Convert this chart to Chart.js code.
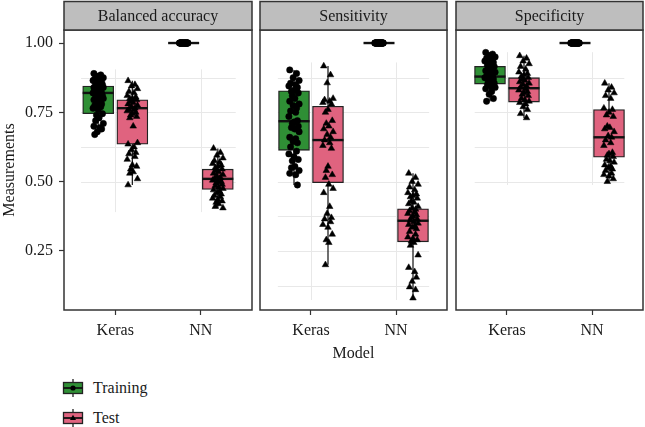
<!DOCTYPE html>
<html>
<head>
<meta charset="utf-8">
<script src="https://cdn.jsdelivr.net/npm/chart.js@4.4.1/dist/chart.umd.min.js"></script>
<style>
  body { margin: 0; background: #fff; }
  #wrap { position: relative; width: 645px; height: 427px; overflow: hidden; background: #fff; font-family: "Liberation Serif", serif; }
  #wrap canvas { position: absolute; top: 0; }
  .leg { position: absolute; left: 62px; height: 20px; line-height: 20px; font-size: 16px; color: #1a1a1a; }
  .leg svg { position: absolute; left: 0; top: 0; }
  .leg span { position: absolute; left: 31px; top: 0; white-space: nowrap; }
</style>
</head>
<body>
<div id="wrap">
  <canvas id="c1" width="256" height="345" style="left:0px"></canvas>
  <canvas id="c2" width="195" height="370" style="left:256px"></canvas>
  <canvas id="c3" width="193" height="345" style="left:452px"></canvas>
  <div class="leg" style="top:378px">
    <svg width="22" height="20"><line x1="11" y1="1" x2="11" y2="19" stroke="#222" stroke-width="1.3"/><rect x="1.5" y="4.5" width="19" height="11" fill="#2f8f35" stroke="#222" stroke-width="1.3"/><line x1="1.5" y1="10" x2="20.5" y2="10" stroke="#111" stroke-width="1.8"/><circle cx="11" cy="10" r="2.6" fill="#000"/></svg>
    <span>Training</span>
  </div>
  <div class="leg" style="top:408px">
    <svg width="22" height="20"><line x1="11" y1="1" x2="11" y2="19" stroke="#222" stroke-width="1.3"/><rect x="1.5" y="4.5" width="19" height="11" fill="#e0637f" stroke="#222" stroke-width="1.3"/><line x1="1.5" y1="10" x2="20.5" y2="10" stroke="#111" stroke-width="1.8"/><path d="M11 6.8 L14 12 L8 12 Z" fill="#000"/></svg>
    <span>Test</span>
  </div>
</div>
<script>
// ---------------- data ----------------
const categories = ["Keras", "NN"];
const panelTitles = ["Balanced accuracy", "Sensitivity", "Specificity"];
const seriesNames = ["Training", "Test"];
const yTickValues = [0.25, 0.50, 0.75, 1.00];

// box statistics per category: [lower whisker, Q1, median, Q3, upper whisker]
const baTrainBox = [[0.67, 0.745, 0.82, 0.845, 0.89], [1, 1, 1, 1, 1]];
const baTestBox  = [[0.488, 0.635, 0.765, 0.795, 0.864], [0.405, 0.472, 0.51, 0.545, 0.62]];
const seTrainBox = [[0.488, 0.613, 0.718, 0.828, 0.903], [1, 1, 1, 1, 1]];
const seTestBox  = [[0.20, 0.496, 0.65, 0.772, 0.917], [0.08, 0.283, 0.359, 0.402, 0.53]];
const spTrainBox = [[0.79, 0.852, 0.879, 0.916, 0.966], [1, 1, 1, 1, 1]];
const spTestBox  = [[0.73, 0.787, 0.837, 0.875, 0.954], [0.50, 0.588, 0.66, 0.76, 0.855]];

// individual measurements (jittered points)
const baKerasTrain = [0.89,0.885,0.88,0.875,0.87,0.87,0.865,0.86,0.86,0.855,0.85,0.85,0.845,0.84,0.84,0.835,0.83,0.83,0.825,0.82,0.82,0.815,0.81,0.81,0.805,0.80,0.80,0.795,0.79,0.785,0.78,0.775,0.77,0.765,0.76,0.745,0.74,0.73,0.72,0.71,0.70,0.695,0.69,0.68,0.67];
const baKerasTest  = [0.864,0.85,0.845,0.835,0.825,0.82,0.81,0.805,0.80,0.80,0.795,0.79,0.785,0.78,0.775,0.77,0.765,0.76,0.76,0.755,0.75,0.745,0.74,0.735,0.73,0.70,0.64,0.635,0.625,0.615,0.605,0.60,0.59,0.58,0.56,0.555,0.545,0.535,0.53,0.51,0.488];
const baNNTrain    = [1,1,1,1,1,1,1,1,1,1,1,1,1,1,1,1,1,1,1,1,1,1,1,1,1,1,1,1,1,1];
const baNNTest     = [0.62,0.605,0.595,0.585,0.575,0.57,0.565,0.56,0.555,0.55,0.545,0.54,0.535,0.53,0.525,0.52,0.515,0.51,0.51,0.505,0.50,0.50,0.495,0.49,0.485,0.48,0.475,0.47,0.465,0.46,0.455,0.45,0.445,0.44,0.435,0.43,0.425,0.42,0.41,0.405];

const seKerasTrain = [0.903,0.89,0.875,0.865,0.855,0.85,0.845,0.84,0.83,0.825,0.82,0.81,0.80,0.79,0.78,0.775,0.765,0.755,0.75,0.735,0.72,0.715,0.71,0.70,0.695,0.69,0.68,0.66,0.655,0.645,0.64,0.625,0.61,0.60,0.59,0.58,0.575,0.555,0.55,0.54,0.53,0.525,0.488];
const seKerasTest  = [0.917,0.885,0.856,0.80,0.795,0.79,0.785,0.78,0.76,0.75,0.72,0.71,0.70,0.69,0.68,0.67,0.66,0.65,0.64,0.63,0.62,0.555,0.54,0.525,0.515,0.49,0.475,0.46,0.41,0.385,0.37,0.365,0.355,0.345,0.335,0.31,0.29,0.28,0.20];
const seNNTrain    = [1,1,1,1,1,1,1,1,1,1,1,1,1,1,1,1,1,1,1,1,1,1,1,1,1,1,1,1,1,1];
const seNNTest     = [0.53,0.515,0.50,0.49,0.48,0.47,0.46,0.455,0.45,0.445,0.44,0.43,0.425,0.42,0.41,0.405,0.40,0.395,0.39,0.385,0.38,0.375,0.37,0.365,0.36,0.355,0.35,0.345,0.34,0.335,0.33,0.32,0.31,0.30,0.295,0.29,0.285,0.28,0.27,0.235,0.19,0.175,0.155,0.14,0.12,0.11,0.08];

const spKerasTrain = [0.966,0.96,0.955,0.95,0.945,0.94,0.935,0.93,0.925,0.92,0.915,0.91,0.905,0.90,0.895,0.89,0.885,0.88,0.88,0.875,0.87,0.865,0.86,0.855,0.85,0.845,0.84,0.835,0.825,0.815,0.80,0.79];
const spKerasTest  = [0.954,0.945,0.935,0.925,0.915,0.905,0.895,0.89,0.885,0.88,0.875,0.87,0.865,0.86,0.855,0.85,0.845,0.84,0.835,0.83,0.825,0.82,0.815,0.81,0.80,0.795,0.79,0.785,0.78,0.77,0.76,0.745,0.73];
const spNNTrain    = [1,1,1,1,1,1,1,1,1,1,1,1,1,1,1,1,1,1,1,1,1,1,1,1,1,1,1,1,1,1];
const spNNTest     = [0.855,0.84,0.83,0.82,0.81,0.80,0.765,0.76,0.75,0.74,0.735,0.70,0.695,0.69,0.68,0.665,0.66,0.65,0.64,0.63,0.605,0.60,0.595,0.59,0.58,0.575,0.57,0.56,0.555,0.55,0.545,0.54,0.53,0.525,0.52,0.51,0.50];

// horizontal jitter offsets (category units)
const jitter = [-0.05,0.03,-0.01,0.06,-0.04,0.02,-0.06,0.04,0.00,-0.03,0.05,-0.02,0.01,-0.05,0.06,-0.01,0.03,-0.04,0.02,-0.06,0.04,0.00,-0.02,0.05,-0.03,0.01,0.06,-0.05,0.02,-0.01,0.04,-0.04,0.03,-0.06,0.00,0.05,-0.02,0.01,-0.03,0.06,-0.05,0.02,0.04,-0.01,-0.04,0.03,0.00,-0.06,0.05,-0.02];

// ---------------- style ----------------
const FONT = '"Liberation Serif", "Times New Roman", serif';
const TEXT = '#1a1a1a';
const GREEN = '#2f8f35';
const PINK = '#e0637f';
const EDGE = '#222222';
const DODGE = 0.2;
const Y_MIN = 0.037, Y_MAX = 1.047;

const panelDefs = [
  { id: 'c1', title: panelTitles[0], train: baTrainBox, test: baTestBox,
    pts: [baKerasTrain, baKerasTest, baNNTrain, baNNTest], showY: true, showXTitle: false,
    pad: { left: 0, right: 4 }, xh: 35, grid: [0.6, 2.41, 0.39, 0.905] },
  { id: 'c2', title: panelTitles[1], train: seTrainBox, test: seTestBox,
    pts: [seKerasTrain, seKerasTest, seNNTrain, seNNTest], showY: false, showXTitle: true,
    pad: { left: 4, right: 4 }, xh: 60, grid: [0.61, 2.39, 0.073, 0.93] },
  { id: 'c3', title: panelTitles[2], train: spTrainBox, test: spTestBox,
    pts: [spKerasTrain, spKerasTest, spNNTrain, spNNTest], showY: false, showXTitle: false,
    pad: { left: 4, right: 2 }, xh: 35, grid: [0.62, 2.38, 0.488, 0.967] }
];

const facetPlugin = {
  id: 'facet',
  beforeDatasetsDraw(chart, args, opts) {
    const { ctx, chartArea: a, scales: { x, y } } = chart;
    const g = opts.grid;
    ctx.save();
    ctx.strokeStyle = '#e8e8e8';
    ctx.lineWidth = 1;
    const x0 = x.getPixelForValue(g[0]), x1 = x.getPixelForValue(g[1]);
    const y0 = y.getPixelForValue(g[2]), y1 = y.getPixelForValue(g[3]);
    for (let v = 0.125; v < 1.0; v += 0.125) {
      if (v < g[2] || v > g[3]) continue;
      const py = Math.round(y.getPixelForValue(v)) + 0.5;
      ctx.beginPath(); ctx.moveTo(x0, py); ctx.lineTo(x1, py); ctx.stroke();
    }
    [1, 2].forEach(c => {
      const px = Math.round(x.getPixelForValue(c)) + 0.5;
      ctx.beginPath(); ctx.moveTo(px, y1); ctx.lineTo(px, y0); ctx.stroke();
    });
    ctx.restore();
  },
  afterDraw(chart, args, opts) {
    const { ctx, chartArea: a } = chart;
    ctx.save();
    ctx.strokeStyle = '#333';
    ctx.lineWidth = 1.5;
    ctx.strokeRect(a.left, a.top, a.right - a.left, a.bottom - a.top);
    ctx.fillStyle = '#bebebe';
    ctx.fillRect(a.left, 1.5, a.right - a.left, a.top - 1.5);
    ctx.strokeRect(a.left, 1.5, a.right - a.left, a.top - 1.5);
    ctx.fillStyle = TEXT;
    ctx.font = '16px ' + FONT;
    ctx.textAlign = 'center';
    ctx.textBaseline = 'middle';
    ctx.fillText(opts.title, (a.left + a.right) / 2, (a.top + 1.5) / 2 + 1);
    ctx.restore();
  }
};

function boxDatasets(stats, color, offset) {
  const sets = [];
  stats.forEach((s, i) => {
    const cx = i + 1 + offset;
    sets.push({ type: 'line', data: [{ x: cx, y: s[0] }, { x: cx, y: s[4] }],
      borderColor: EDGE, borderWidth: 1.3, pointRadius: 0, fill: false, order: 5 });
  });
  sets.push({ type: 'bar', data: stats.map((s, i) => ({ x: i + 1 + offset, y: [s[1], s[3]] })),
    backgroundColor: color, borderColor: EDGE, borderWidth: 1.3, borderSkipped: false,
    barThickness: 31, grouped: false, order: 4 });
  sets.push({ type: 'scatter', data: stats.map((s, i) => ({ x: i + 1 + offset, y: s[2] })),
    pointStyle: 'line', pointRadius: 15.5, borderColor: '#111', borderWidth: 2.4, order: 3 });
  return sets;
}

function pointDataset(values, cx, style, radius, spread) {
  return { type: 'scatter',
    data: values.map((v, i) => ({ x: cx + jitter[i % jitter.length] * spread, y: v })),
    pointStyle: style, pointRadius: radius, backgroundColor: '#000', borderColor: '#000',
    borderWidth: 0.5, order: 1 };
}

panelDefs.forEach(p => {
  const datasets = [
    ...boxDatasets(p.train, GREEN, -DODGE),
    ...boxDatasets(p.test, PINK, DODGE),
    pointDataset(p.pts[0], 1 - DODGE, 'circle', 3.2, 1),
    pointDataset(p.pts[1], 1 + DODGE, 'triangle', 3.8, 1),
    pointDataset(p.pts[2], 2 - DODGE, 'circle', 3.2, 0.8),
    pointDataset(p.pts[3], 2 + DODGE, 'triangle', 3.8, 1)
  ];
  new Chart(document.getElementById(p.id), {
    type: 'scatter',
    data: { datasets },
    plugins: [facetPlugin],
    options: {
      responsive: false,
      animation: false,
      events: [],
      layout: { autoPadding: false, padding: { left: p.pad.left, right: p.pad.right, top: 30, bottom: 0 } },
      plugins: { legend: { display: false }, tooltip: { enabled: false },
        facet: { title: p.title, grid: p.grid } },
      scales: {
        x: {
          type: 'linear', min: 0.4, max: 2.6, offset: false,
          afterBuildTicks: s => { s.ticks = categories.map((c, i) => ({ value: i + 1 })); },
          afterFit: s => { s.height = p.xh; s.paddingLeft = 0; s.paddingRight = 0; },
          ticks: { callback: v => categories[Math.round(v) - 1], color: TEXT,
            font: { family: FONT, size: 16 }, padding: 6, maxRotation: 0, autoSkip: false },
          grid: { drawOnChartArea: false, drawTicks: true, tickLength: 5, tickColor: '#333', tickWidth: 1.2, offset: false },
          border: { display: false },
          title: { display: p.showXTitle, text: 'Model', color: TEXT,
            font: { family: FONT, size: 16 }, padding: { top: 0, bottom: 7 } }
        },
        y: {
          type: 'linear', min: Y_MIN, max: Y_MAX, display: p.showY, beginAtZero: false,
          afterBuildTicks: s => { s.ticks = yTickValues.map(v => ({ value: v })); },
          afterFit: s => { s.width = p.showY ? 64 : 0; s.paddingTop = 0; s.paddingBottom = 0; },
          ticks: { callback: v => v.toFixed(2), color: TEXT, font: { family: FONT, size: 16 }, padding: 6 },
          grid: { drawOnChartArea: false, drawTicks: true, tickLength: 5, tickColor: '#333', tickWidth: 1.2 },
          border: { display: false },
          title: { display: p.showY, text: 'Measurements', color: TEXT,
            font: { family: FONT, size: 16 }, padding: { top: 0, bottom: 0 } }
        }
      }
    }
  });
});
</script>
</body>
</html>
